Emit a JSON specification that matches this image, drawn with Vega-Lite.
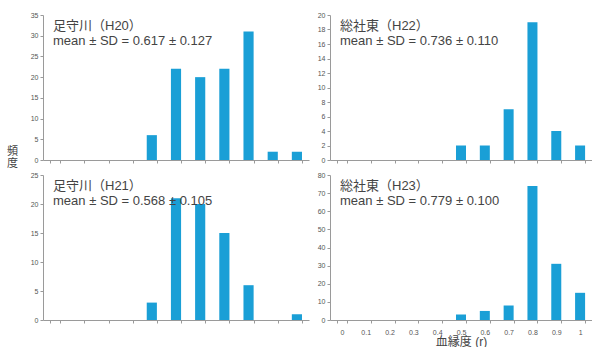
{
  "$schema": "https://vega.github.io/schema/vega-lite/v6.json",
  "padding": {"left": 6, "top": 11, "right": 0, "bottom": 0},
  "background": "white",
  "config": {
    "font": "'Liberation Sans', 'Noto Sans CJK JP', sans-serif",
    "view": {"stroke": null},
    "bar": {"color": "#1a9fd6"},
    "axis": {
      "grid": false,
      "domainColor": "#9a9a9a",
      "tickColor": "#9a9a9a",
      "tickSize": 3,
      "labelColor": "#555555",
      "labelFontSize": 7,
      "labelFont": "'Liberation Sans', sans-serif",
      "titleColor": "#444444",
      "titleFontWeight": "normal"
    },
    "title": {
      "anchor": "start",
      "frame": "group",
      "orient": "top",
      "offset": -37,
      "dx": 10,
      "fontSize": 13,
      "fontWeight": "normal",
      "color": "#444444",
      "subtitleFontSize": 13,
      "subtitleColor": "#444444",
      "subtitlePadding": 2
    }
  },
  "data": {
    "values": [
      {"panel": "H20", "r": "0.4", "n": 6},
      {"panel": "H20", "r": "0.5", "n": 22},
      {"panel": "H20", "r": "0.6", "n": 20},
      {"panel": "H20", "r": "0.7", "n": 22},
      {"panel": "H20", "r": "0.8", "n": 31},
      {"panel": "H20", "r": "0.9", "n": 2},
      {"panel": "H20", "r": "1", "n": 2},
      {"panel": "H21", "r": "0.4", "n": 3},
      {"panel": "H21", "r": "0.5", "n": 21},
      {"panel": "H21", "r": "0.6", "n": 20},
      {"panel": "H21", "r": "0.7", "n": 15},
      {"panel": "H21", "r": "0.8", "n": 6},
      {"panel": "H21", "r": "1", "n": 1},
      {"panel": "H22", "r": "0.5", "n": 2},
      {"panel": "H22", "r": "0.6", "n": 2},
      {"panel": "H22", "r": "0.7", "n": 7},
      {"panel": "H22", "r": "0.8", "n": 19},
      {"panel": "H22", "r": "0.9", "n": 4},
      {"panel": "H22", "r": "1", "n": 2},
      {"panel": "H23", "r": "0.5", "n": 3},
      {"panel": "H23", "r": "0.6", "n": 5},
      {"panel": "H23", "r": "0.7", "n": 8},
      {"panel": "H23", "r": "0.8", "n": 74},
      {"panel": "H23", "r": "0.9", "n": 31},
      {"panel": "H23", "r": "1", "n": 15}
    ]
  },
  "vconcat": [
    {
      "spacing": 8,
      "hconcat": [
        {
          "title": {"text": "足守川（H20）", "subtitle": "mean ± SD = 0.617 ± 0.127"},
          "width": 266,
          "height": 145,
          "transform": [{"filter": "datum.panel === 'H20'"}],
          "mark": "bar",
          "encoding": {
            "x": {
              "field": "r", "type": "ordinal",
              "scale": {"domain": ["0", "0.1", "0.2", "0.3", "0.4", "0.5", "0.6", "0.7", "0.8", "0.9", "1"], "paddingInner": 0.58, "paddingOuter": 0.29},
              "axis": {"labels": false, "title": null, "tickBand": "extent"}
            },
            "y": {
              "field": "n", "type": "quantitative",
              "scale": {"domain": [0, 35]},
              "axis": {
                "values": [0, 5, 10, 15, 20, 25, 30, 35],
                "title": ["頻", "度"],
                "titleAngle": 0,
                "titleFontSize": 11,
                "titleLineHeight": 12,
                "titleAlign": "center",
                "titleBaseline": "top",
                "titleX": -31,
                "titleY": 130
              }
            }
          }
        },
        {
          "title": {"text": "総社東（H22）", "subtitle": "mean ± SD = 0.736 ± 0.110"},
          "width": 262,
          "height": 145,
          "transform": [{"filter": "datum.panel === 'H22'"}],
          "mark": "bar",
          "encoding": {
            "x": {
              "field": "r", "type": "ordinal",
              "scale": {"domain": ["0", "0.1", "0.2", "0.3", "0.4", "0.5", "0.6", "0.7", "0.8", "0.9", "1"], "paddingInner": 0.58, "paddingOuter": 0.29},
              "axis": {"labels": false, "title": null, "tickBand": "extent"}
            },
            "y": {
              "field": "n", "type": "quantitative",
              "scale": {"domain": [0, 20]},
              "axis": {"values": [0, 2, 4, 6, 8, 10, 12, 14, 16, 18, 20], "title": null}
            }
          }
        }
      ]
    },
    {
      "spacing": 8,
      "hconcat": [
        {
          "title": {"text": "足守川（H21）", "subtitle": "mean ± SD = 0.568 ± 0.105"},
          "width": 266,
          "height": 145,
          "transform": [{"filter": "datum.panel === 'H21'"}],
          "mark": "bar",
          "encoding": {
            "x": {
              "field": "r", "type": "ordinal",
              "scale": {"domain": ["0", "0.1", "0.2", "0.3", "0.4", "0.5", "0.6", "0.7", "0.8", "0.9", "1"], "paddingInner": 0.58, "paddingOuter": 0.29},
              "axis": {"labels": false, "title": null, "tickBand": "extent"}
            },
            "y": {
              "field": "n", "type": "quantitative",
              "scale": {"domain": [0, 25]},
              "axis": {"values": [0, 5, 10, 15, 20, 25], "title": null}
            }
          }
        },
        {
          "title": {"text": "総社東（H23）", "subtitle": "mean ± SD = 0.779 ± 0.100"},
          "width": 262,
          "height": 145,
          "transform": [{"filter": "datum.panel === 'H23'"}],
          "mark": "bar",
          "encoding": {
            "x": {
              "field": "r", "type": "ordinal",
              "scale": {"domain": ["0", "0.1", "0.2", "0.3", "0.4", "0.5", "0.6", "0.7", "0.8", "0.9", "1"], "paddingInner": 0.58, "paddingOuter": 0.29},
              "axis": {"labelAngle": 0, "labelPadding": 5, "title": "血縁度 (r)", "titleFontSize": 12, "titlePadding": 1, "tickBand": "extent"}
            },
            "y": {
              "field": "n", "type": "quantitative",
              "scale": {"domain": [0, 80]},
              "axis": {"values": [0, 10, 20, 30, 40, 50, 60, 70, 80], "title": null}
            }
          }
        }
      ]
    }
  ],
  "spacing": 3
}
